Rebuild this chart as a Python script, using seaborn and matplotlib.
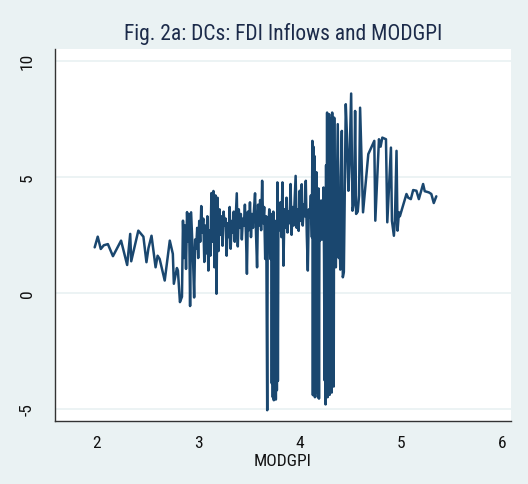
import matplotlib
matplotlib.use("Agg")
import matplotlib.pyplot as plt
from matplotlib import font_manager as fm
import pandas as pd
import seaborn as sns

# ---- data ----
modgpi_a = [1.98, 2.01, 2.04, 2.07, 2.11, 2.16, 2.24, 2.30, 2.33, 2.34,
            2.41, 2.46, 2.49, 2.51, 2.54, 2.58, 2.60, 2.62, 2.67, 2.72,
            2.75, 2.76, 2.79, 2.80, 2.82, 2.84]
fdi_a = [1.96, 2.42, 1.89, 2.05, 2.10, 1.58, 2.25, 1.20, 2.54, 1.36,
         2.68, 2.42, 1.32, 1.93, 2.46, 1.10, 1.60, 1.46, 0.53, 2.25,
         1.68, 0.39, 1.07, 0.96, -0.40, -0.17]

modgpi_b = [2.85, 2.86, 2.87, 2.88, 2.89, 2.90, 2.91, 2.92, 2.93, 2.94,
            2.95, 2.96, 2.97, 2.98, 2.99, 3.00, 3.01, 3.02, 3.03, 3.04,
            3.05, 3.06, 3.07, 3.08, 3.09, 3.10, 3.11, 3.12, 3.13, 3.14,
            3.15, 3.16, 3.17, 3.18, 3.19, 3.20, 3.21, 3.22, 3.23, 3.24,
            3.25, 3.26, 3.27, 3.28, 3.29, 3.30, 3.31, 3.32, 3.33, 3.34,
            3.35, 3.36, 3.37, 3.38, 3.39, 3.40, 3.41, 3.42, 3.43, 3.44,
            3.45, 3.46, 3.47, 3.48, 3.49, 3.50, 3.51, 3.52, 3.53, 3.54,
            3.55, 3.56, 3.57, 3.58, 3.59, 3.60, 3.61, 3.62, 3.63, 3.64,
            3.65, 3.66, 3.67]
fdi_b = [3.11, 1.5, 2.9, 1.03, 3.48, 2.2, 3.4, -0.57, 3.47, 2.4,
         1.3, -0.2, 2.3, 1.9, 2.8, 1.5, 3.1, 2.2, 3.74, 2.6,
         3.2, 1.33, 2.9, 1.7, 3.3, 0.96, 2.7, 1.6, 4.3, 2.2,
         4.39, 1.1, 4.2, -0.04, 4.1, 1.8, 3.6, 2.5, 3.3, 2.03,
         3.5, 2.9, 3.2, 1.6, 3.0, 2.4, 3.7, 1.9, 3.1, 2.6,
         3.5, 2.2, 3.3, 4.29, 2.0, 3.6, 2.8, 3.4, 2.3, 3.2,
         2.9, 3.8, 2.6, 0.82, 3.5, 2.7, 3.9, 2.4, 3.4, 2.8,
         3.6, 4.29, 2.5, 1.1, 3.8, 2.9, 4.0, 2.7, 4.83, 3.0,
         3.7, 1.46, 3.3]

modgpi_c = [3.68, 3.685, 3.69, 3.70, 3.71, 3.72, 3.725, 3.73, 3.735, 3.74,
            3.745, 3.75, 3.755, 3.76, 3.765, 3.77, 3.775, 3.78, 3.785, 3.79,
            3.80, 3.81, 3.82, 3.83, 3.84, 3.85, 3.86, 3.87, 3.88, 3.89,
            3.90, 3.91, 3.92, 3.93, 3.94, 3.95, 3.96, 3.97, 3.98, 3.99,
            4.00, 4.01, 4.02, 4.03, 4.04, 4.05, 4.06, 4.07, 4.08, 4.09]
fdi_c = [-5.06, 3.2, 2.4, 3.6, 1.46, 3.4, -3.9, 2.9, -4.5, 3.5,
         -4.63, 2.6, -4.4, 3.1, -4.6, 2.2, -4.2, 4.76, -3.8, 3.3,
         2.7, 3.9, 2.4, 4.76, 1.17, 3.6, 2.8, 4.1, 2.6, 3.5,
         3.0, 4.69, 2.5, 3.7, 2.9, 4.0, 5.04, 2.8, 3.6, 2.67,
         4.4, 3.1, 4.68, 2.9, 3.8, 3.3, 4.83, 2.5, 0.96, 3.6]

modgpi_d = [4.10, 4.11, 4.12, 4.125, 4.13, 4.135, 4.14, 4.145, 4.15, 4.155,
            4.16, 4.165, 4.17, 4.175, 4.18, 4.185, 4.19, 4.195, 4.20, 4.205,
            4.21, 4.215, 4.22, 4.225, 4.23, 4.235, 4.24, 4.245, 4.25, 4.255,
            4.26, 4.265, 4.27, 4.275, 4.28, 4.285, 4.29, 4.295, 4.30, 4.305,
            4.31, 4.315, 4.32, 4.325, 4.33, 4.335, 4.34, 4.345, 4.35, 4.356,
            4.365, 4.375, 4.385, 4.39, 4.40, 4.405, 4.415, 4.425, 4.435, 4.445]
fdi_d = [3.25, 4.2, 2.4, 6.55, -4.41, 6.3, 2.0, 5.9, -4.5, 4.6,
         2.6, 5.2, -4.3, 3.8, -4.5, 4.5, -4.56, 3.9, 2.25, 3.97,
         2.7, 3.6, 2.3, 4.0, 3.0, 4.54, 1.5, -3.77, 3.0, -4.81,
         5.5, -4.3, 7.77, -4.5, 7.6, -4.04, 7.7, -4.4, 6.9, 0.5,
         7.5, -4.3, 7.77, -3.9, 6.0, -4.04, 7.55, 2.0, 5.0, 1.1,
         4.2, 7.27, 1.5, 3.0, 1.0, 5.0, 6.98, 0.67, 0.9, 4.6]

modgpi_e = [4.454, 4.465, 4.48, 4.49, 4.507, 4.52, 4.536, 4.546, 4.556, 4.572,
            4.585, 4.595, 4.624, 4.676, 4.735, 4.745, 4.781, 4.797, 4.814, 4.85,
            4.863, 4.899, 4.909, 4.928, 4.938, 4.954, 4.964, 4.978, 4.987, 5.052,
            5.069, 5.095, 5.118, 5.15, 5.174, 5.216, 5.232, 5.272, 5.297, 5.321,
            5.346]
fdi_e = [8.13, 6.84, 4.4, 5.5, 8.59, 3.54, 3.9, 7.84, 3.4, 3.5,
         4.2, 7.98, 3.47, 5.98, 6.55, 3.11, 6.62, 6.3, 6.69, 6.62,
         3.04, 6.26, 3.1, 2.46, 3.1, 6.12, 2.68, 3.47, 3.3, 4.26,
         4.1, 4.04, 4.43, 4.4, 4.04, 4.69, 4.38, 4.33, 4.26, 3.87,
         4.16]

x_ticks = [2, 3, 4, 5, 6]
y_ticks = [-5, 0, 5, 10]
title = "Fig. 2a: DCs: FDI Inflows and MODGPI"
x_label = "MODGPI"

df = pd.DataFrame({
    "MODGPI": modgpi_a + modgpi_b + modgpi_c + modgpi_d + modgpi_e,
    "FDI": fdi_a + fdi_b + fdi_c + fdi_d + fdi_e,
})

# ---- style ----
sns.set_theme(style="white")


def find_narrow():
    prefs = ["Liberation Sans Narrow", "Arial Narrow", "Roboto Condensed",
             "Open Sans Condensed", "DejaVu Sans Condensed", "Noto Sans Condensed"]
    fl = fm.fontManager.ttflist
    for p in prefs:
        for f in fl:
            if f.name == p and f.style == "normal" and f.weight in (400, "normal", "regular"):
                return f.fname
    for f in fl:
        st = str(f.stretch)
        if (("Narrow" in f.name or "Condensed" in f.name or st in ("condensed", "semi-condensed"))
                and f.style == "normal" and f.weight in (400, "normal", "regular")
                and "Mono" not in f.name and "Serif" not in f.name):
            return f.fname
    return None


narrow = find_narrow()
plt.rcParams["font.family"] = ["Liberation Sans", "DejaVu Sans"]
if narrow:
    fp_tick = fm.FontProperties(fname=narrow, size=12.5)
    fp_title = fm.FontProperties(fname=narrow, size=15.5)
else:
    fp_tick = fm.FontProperties(family="Liberation Sans", size=10.5)
    fp_title = fm.FontProperties(family="Liberation Sans", size=13.3)

BG = "#EAF2F3"
LINE = "#1A476F"
AX = "#333333"

fig = plt.figure(figsize=(5.28, 4.85), dpi=100, facecolor=BG)
ax = fig.add_axes([55 / 528, 1 - 422 / 485, (510.7 - 55) / 528, (422 - 50) / 485])
ax.set_facecolor("white")

sns.lineplot(data=df, x="MODGPI", y="FDI", sort=False, estimator=None,
             color=LINE, linewidth=1.8, ax=ax)

ax.set_xlim(1.589, 6.079)
ax.set_ylim(-5.525, 10.51)
ax.set_xticks(x_ticks)
ax.set_xticklabels([str(t) for t in x_ticks], fontproperties=fp_tick, color="#111111")
ax.set_yticks(y_ticks)
ax.set_yticklabels([str(t) for t in y_ticks], rotation=90, va="center",
                   fontproperties=fp_tick, color="#111111")
ax.grid(axis="y", color=BG, linewidth=1.3)
ax.grid(axis="x", visible=False)
ax.set_axisbelow(True)

for s in ["top", "right"]:
    ax.spines[s].set_visible(False)
for s in ["left", "bottom"]:
    ax.spines[s].set_color(AX)
    ax.spines[s].set_linewidth(1.0)

ax.tick_params(axis="both", direction="out", length=5, width=1, color=AX)
ax.tick_params(axis="x", pad=5)
ax.tick_params(axis="y", pad=9.5)
ax.set_xlabel(x_label, fontproperties=fp_tick, color="#111111", labelpad=2)
ax.set_ylabel("")

fig.text(283 / 528, 1 - 34 / 485, title, ha="center", va="center",
         fontproperties=fp_title, color="#1C2B4A")

fig.savefig("out.png", dpi=100, facecolor=BG)
